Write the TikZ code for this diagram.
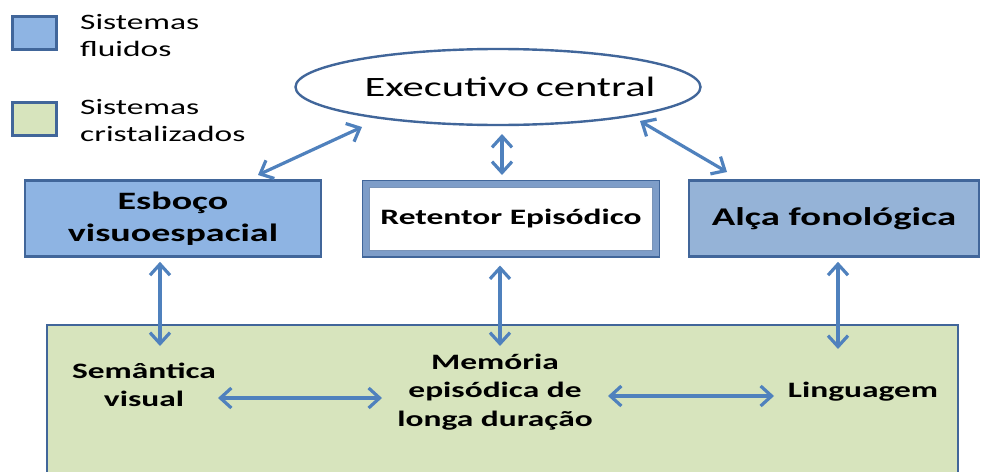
\documentclass[tikz,border=0pt]{standalone}
\usepackage{fontspec}
\setmainfont{Carlito}
\usetikzlibrary{arrows.meta,shapes.geometric}
\definecolor{fluid}{HTML}{8EB4E3}
\definecolor{fluidB}{HTML}{95B3D7}
\definecolor{crist}{HTML}{D7E4BD}
\definecolor{edge}{HTML}{41669A}
\definecolor{frame}{HTML}{7E9DC8}
\definecolor{arr}{HTML}{4F81BD}
\newcommand{\sx}[1]{\scalebox{1.52}[1]{#1}}
\tikzset{
  bi/.style={{Straight Barb[length=11pt,width=20pt]}-{Straight Barb[length=11pt,width=20pt]}, line width=3.2pt, draw=arr},
  legbox/.style={draw=edge, line width=2.6pt, minimum width=44pt, minimum height=33pt, inner sep=0pt},
  legtxt/.style={anchor=west, align=left, font=\fontsize{22}{27}\selectfont, inner sep=0pt},
  topbox/.style={draw=edge, line width=2.6pt, minimum width=296pt, minimum height=76pt, inner sep=0pt, align=center, font=\bfseries\fontsize{25}{32}\selectfont},
  lbl/.style={align=center, font=\bfseries\fontsize{22}{28.5}\selectfont, inner sep=0pt}
}
\begin{document}
\begin{tikzpicture}[x=1pt,y=-1pt]
\useasboundingbox[fill=white] (0,0) rectangle (981,471);
% legend
\node[legbox, fill=fluid] (lg1) at (34.5,33) {};
\node[legtxt] (lt1) at (80,36) {\sx{Sistemas}\\\sx{fluidos}};
\node[legbox, fill=crist] (lg2) at (34.5,119) {};
\node[legtxt] (lt2) at (80,121) {\sx{Sistemas}\\\sx{cristalizados}};
% executive
\node[ellipse, draw=edge, line width=2.4pt, minimum width=405pt, minimum height=76pt, inner sep=0pt] (exec) at (498,87) {};
\node[inner sep=0pt, font=\fontsize{28}{34}\selectfont] (exectxt) at ([xshift=12pt]exec.center) {\sx{Executivo\hspace{-2pt} central}};
% top boxes
\node[topbox, fill=fluid] (esb) at (173,218.5) {\sx{Esboço}\\\sx{visuoespacial}};
\node[topbox, draw=frame, line width=8pt, fill=white, minimum width=290pt, minimum height=70pt, font=\bfseries\fontsize{22}{28}\selectfont] (ret) at (511,218.5) {\sx{Retentor Episódico}};
\draw[edge, line width=1.4pt] ([shift={(0.7,0.7)}]ret.north west) rectangle ([shift={(-0.7,-0.7)}]ret.south east);
\draw[edge!70, line width=0.8pt] ([shift={(7.6,7.6)}]ret.north west) rectangle ([shift={(-7.6,-7.6)}]ret.south east);
\node[topbox, fill=fluidB, minimum width=290pt, font=\bfseries\fontsize{25.5}{32}\selectfont] (alc) at (834,218.5) {\sx{Alça fonológica}};
% bottom box
\node[draw=edge, line width=2.6pt, fill=crist, minimum width=911pt, minimum height=160pt, inner sep=0pt] (ltm) at (502.5,405) {};
% labels
\node[lbl] (sem) at (144,385) {\sx{Semântica}\\\sx{visual}};
\node[lbl] (mem) at (495,392) {\sx{Memória}\\\sx{episódica de}\\\sx{longa duração}};
\node[lbl] (ling) at (863,392) {\sx{Linguagem}};
% arrows
\coordinate (e1) at (362,127);
\coordinate (b1) at (258,175);
\coordinate (e2) at (502,134);
\coordinate (b2) at (502,175);
\coordinate (e3) at (640,121);
\coordinate (b3) at (727,172);
\draw[bi] (e1) -- (b1);
\draw[bi] (e2) -- (b2);
\draw[bi] (e3) -- (b3);
\draw[bi] (esb.south -| 160,0) ++(0,4) -- (160,346);
\draw[bi] (ret.south -| 500,0) ++(0,8) -- (500,346);
\draw[bi] (alc.south -| 838,0) ++(0,4) -- (838,349);
\draw[bi] (218,398) -- (382,398);
\draw[bi] (608,396) -- (774,396);
\end{tikzpicture}
\end{document}
